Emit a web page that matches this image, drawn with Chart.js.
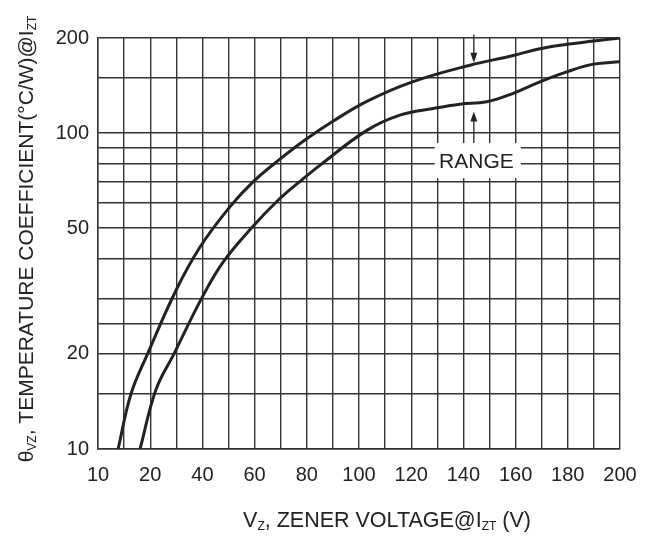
<!DOCTYPE html>
<html>
<head>
<meta charset="utf-8">
<script src="https://cdn.jsdelivr.net/npm/chart.js@4.4.1/dist/chart.umd.min.js"></script>
<style>
  html, body { margin: 0; padding: 0; background: #fff; }
  #wrap { width: 652px; height: 536px; position: relative; }
</style>
</head>
<body>
<div id="wrap"><canvas id="main-chart"></canvas></div>
<script>
// Curve readings (x in axis units, y in degC/W)
const upperX = [7.7, 12.6, 19.0, 29.9, 39.1, 50.6, 59.5, 69.7, 79.3, 90.0, 103, 120.2, 142.5, 159.1, 169.3, 179.6, 200];
const upperY = [10, 14.9, 20, 31.8, 43.6, 58.5, 70.2, 82.7, 95.1, 109, 126, 145, 164, 176, 185, 191, 200];
const lowerX = [16.1, 22.2, 29.1, 40.0, 48.0, 59.5, 69.1, 78.0, 85.1, 103, 115.7, 128.5, 138.7, 148.9, 159.1, 169.3, 179.6, 189.8, 200];
const lowerY = [10, 15.4, 20, 30.3, 39.1, 50.8, 61.4, 71.0, 79.2, 102, 114, 119.7, 123.5, 125.6, 133.6, 145.3, 156.3, 165.3, 168.1];

// Axis ticks
const xLabelValues = [0, 20, 40, 60, 80, 100, 120, 140, 160, 180, 200];
const xLabelTexts = ['10', '20', '40', '60', '80', '100', '120', '140', '160', '180', '200'];
const yGridValues = [10, 15, 20, 25, 30, 40, 50, 60, 70, 80, 90, 100, 150, 200];
const yLabelValues = [10, 20, 50, 100, 200];

// RANGE note
const rangeText = 'RANGE';
const rangeBoxX = [129, 162];
const rangeBoxY = [72, 93];
const rangeTextAt = [145, 81];
const arrowX = 144;
const downArrow = [205, 167];
const upArrow = [93, 117];

const FONT = "'Liberation Sans', Arial, sans-serif";
const INK = '#222';

function toPoints(xs, ys) {
    return xs.map((x, i) => ({ x: x, y: ys[i] }));
}

function drawRichText(ctx, parts, x, y, size) {
    const subSize = Math.round(size * 0.55);
    let width = 0;
    parts.forEach(p => {
        ctx.font = `${p[1] ? subSize : size}px ${FONT}`;
        width += ctx.measureText(p[0]).width;
    });
    let cx = x - width / 2;
    parts.forEach(p => {
        ctx.font = `${p[1] ? subSize : size}px ${FONT}`;
        ctx.fillText(p[0], cx, p[1] ? y + 3 : y);
        cx += ctx.measureText(p[0]).width;
    });
}

function drawArrow(ctx, x, y0, y1) {
    const dir = y1 > y0 ? 1 : -1;
    ctx.beginPath();
    ctx.moveTo(x, y0);
    ctx.lineTo(x, y1 - dir * 8);
    ctx.stroke();
    ctx.beginPath();
    ctx.moveTo(x, y1);
    ctx.lineTo(x - 3.5, y1 - dir * 10);
    ctx.lineTo(x + 3.5, y1 - dir * 10);
    ctx.closePath();
    ctx.fill();
}

const notesPlugin = {
    id: 'notes',
    afterDraw(chart) {
        const { ctx, scales: { x, y } } = chart;
        ctx.save();

        // white gap in the grid for the RANGE label
        const bx0 = x.getPixelForValue(rangeBoxX[0]);
        const bx1 = x.getPixelForValue(rangeBoxX[1]);
        const by0 = y.getPixelForValue(rangeBoxY[1]);
        const by1 = y.getPixelForValue(rangeBoxY[0]);
        ctx.fillStyle = '#fff';
        ctx.fillRect(bx0, by0, bx1 - bx0, by1 - by0);

        ctx.fillStyle = INK;
        ctx.font = `21px ${FONT}`;
        ctx.textAlign = 'center';
        ctx.textBaseline = 'middle';
        ctx.fillText(rangeText, x.getPixelForValue(rangeTextAt[0]), y.getPixelForValue(rangeTextAt[1]));

        ctx.strokeStyle = INK;
        ctx.lineWidth = 1.3;
        const ax = x.getPixelForValue(arrowX);
        drawArrow(ctx, ax, y.getPixelForValue(downArrow[0]), y.getPixelForValue(downArrow[1]));
        drawArrow(ctx, ax, y.getPixelForValue(upArrow[0]), y.getPixelForValue(upArrow[1]));

        // axis titles with subscripts
        ctx.textAlign = 'left';
        ctx.textBaseline = 'alphabetic';
        drawRichText(ctx, [['V', 0], ['Z', 1], [', ZENER VOLTAGE@I', 0], ['ZT', 1], [' (V)', 0]], 387, 527, 21.5);

        ctx.translate(33, 239);
        ctx.rotate(-Math.PI / 2);
        drawRichText(ctx, [['\u03b8', 0], ['VZ', 1], [', TEMPERATURE COEFFICIENT(\u00b0C/W)@I', 0], ['ZT', 1]], 0, 0, 21);

        ctx.restore();
    }
};

function renderChart() {
    const ctx = document.getElementById('main-chart').getContext('2d');
    const lineStyle = { showLine: true, borderColor: INK, borderWidth: 3, pointRadius: 0, tension: 0.4, fill: false };

    new Chart(ctx, {
        type: 'scatter',
        data: {
            datasets: [
                { label: 'Upper', data: toPoints(upperX, upperY), ...lineStyle },
                { label: 'Lower', data: toPoints(lowerX, lowerY), ...lineStyle }
            ]
        },
        options: {
            responsive: true,
            maintainAspectRatio: false,
            animation: false,
            layout: { padding: { top: 38, right: 32, left: 0, bottom: 0 } },
            plugins: { legend: { display: false }, tooltip: { enabled: false } },
            scales: {
                x: {
                    type: 'linear', min: 0, max: 200,
                    grid: { color: '#333', lineWidth: 1.4, drawTicks: false },
                    border: { color: '#333', width: 1.4 },
                    ticks: {
                        stepSize: 10, autoSkip: false, maxRotation: 0, padding: 14,
                        color: INK, font: { family: FONT, size: 20 },
                        callback: v => {
                            const i = xLabelValues.indexOf(v);
                            return i >= 0 ? xLabelTexts[i] : '';
                        }
                    },
                    afterFit: s => { s.height = 87; }
                },
                y: {
                    type: 'logarithmic', min: 10, max: 200,
                    grid: { color: '#333', lineWidth: 1.4, drawTicks: false },
                    border: { color: '#333', width: 1.4 },
                    afterBuildTicks: s => { s.ticks = yGridValues.map(v => ({ value: v })); },
                    ticks: {
                        autoSkip: false, padding: 9,
                        color: INK, font: { family: FONT, size: 20 },
                        callback: v => yLabelValues.includes(v) ? String(v) : ''
                    },
                    afterFit: s => { s.width = 98; }
                }
            }
        },
        plugins: [notesPlugin]
    });
}

document.addEventListener('DOMContentLoaded', renderChart);
</script>
</body>
</html>
